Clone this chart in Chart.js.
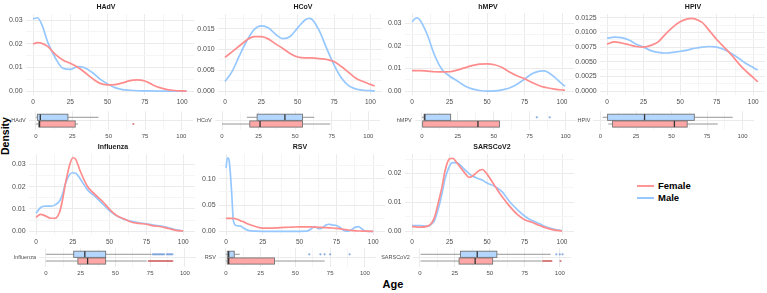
<!DOCTYPE html>
<html>
<head>
<meta charset="utf-8">
<script src="https://cdn.jsdelivr.net/npm/chart.js@4.4.0/dist/chart.umd.min.js"></script>
<style>
  body { margin: 0; background: #fff; }
  #wrap { position: relative; width: 767px; height: 293px; overflow: hidden; font-family: 'Liberation Sans', Arial, sans-serif; }
  #wrap canvas { position: absolute; }
  .ttl { position: absolute; font-weight: bold; font-size: 7px; color: #1a1a1a; transform: translate(-50%, -50%); white-space: nowrap; }
  .axt { position: absolute; font-weight: bold; color: #000; white-space: nowrap; transform: translate(-50%, -50%); }
  .leg { position: absolute; left: 637px; font-weight: bold; font-size: 9.5px; color: #000; }
  .leg span { display: inline-block; width: 17px; height: 2px; vertical-align: middle; margin-right: 4px; }
</style>
</head>
<body>
<div id="wrap">
  <div class="axt" style="left:5px;top:136px;font-size:10.5px;transform:translate(-50%,-50%) rotate(-90deg);">Density</div>
  <div class="axt" style="left:393px;top:284px;font-size:11px;">Age</div>
  <div class="leg" style="top:180px;"><span style="background:rgb(255,150,150)"></span>Female</div>
  <div class="leg" style="top:192px;"><span style="background:rgb(150,200,255)"></span>Male</div>
</div>
<script>
// Kernel density of age by sex, one panel per virus, with boxplots underneath

// ---- HAdV
const hadvAge    = [0, 3, 6, 10, 15, 20, 25, 30, 35, 40, 45, 50, 55, 60, 65, 70, 75, 80, 85, 90, 95, 100, 103];
const hadvFemale = [0.0199, 0.0205, 0.0202, 0.0188, 0.0155, 0.0132, 0.0118, 0.0101, 0.0078, 0.0053, 0.0033, 0.0027, 0.0028, 0.0035, 0.0045, 0.0048, 0.0043, 0.0028, 0.0015, 0.0007, 0.0003, 0.0001, 0];
const hadvMale   = [0.0305, 0.0310, 0.0280, 0.0205, 0.0140, 0.0097, 0.0092, 0.0104, 0.0098, 0.0078, 0.0051, 0.0031, 0.0015, 0.0007, 0.0004, 0.0002, 0.0001, 0.0001, 0, 0, 0, 0, 0];
const hadvBoxFemale = [0, 2, 2.5, 27, 29];
const hadvBoxMale   = [0, 1, 3, 22, 43];
const hadvOutFemale = [67];
const hadvOutMale   = [];

// ---- HCoV
const hcovAge    = [0, 5, 10, 15, 20, 25, 30, 35, 40, 45, 50, 55, 58, 60, 65, 70, 75, 80, 85, 90, 95, 100, 103];
const hcovFemale = [0.0081, 0.0095, 0.0109, 0.0123, 0.0131, 0.0131, 0.0125, 0.0113, 0.0102, 0.0090, 0.0082, 0.0080, 0.0080, 0.0080, 0.0078, 0.0076, 0.0071, 0.0059, 0.0045, 0.0031, 0.0023, 0.0016, 0.0012];
const hcovMale   = [0.0023, 0.0048, 0.0086, 0.0121, 0.0148, 0.0157, 0.0152, 0.0136, 0.0126, 0.0132, 0.0152, 0.0171, 0.0175, 0.0172, 0.0144, 0.0102, 0.0063, 0.0032, 0.0013, 0.0005, 0.0002, 0.0001, 0];
const hcovBoxFemale = [0, 19, 26, 55, 74];
const hcovBoxMale   = [17, 24, 43, 55, 63];
const hcovOutFemale = [];
const hcovOutMale   = [];

// ---- hMPV
const hmpvAge    = [0, 3, 5, 10, 15, 20, 25, 30, 35, 40, 45, 50, 55, 60, 65, 70, 75, 80, 85, 88, 90, 95, 100, 102];
const hmpvFemale = [0.0091, 0.0091, 0.0091, 0.0089, 0.0086, 0.0085, 0.0086, 0.0093, 0.0103, 0.0113, 0.0120, 0.0121, 0.0117, 0.0105, 0.0085, 0.0068, 0.0055, 0.0038, 0.0024, 0.0018, 0.0015, 0.0009, 0.0005, 0.0004];
const hmpvMale   = [0.0307, 0.0324, 0.0317, 0.0253, 0.0160, 0.0096, 0.0067, 0.0046, 0.0024, 0.0010, 0.0003, 0, 0.0001, 0.0006, 0.0014, 0.0031, 0.0053, 0.0077, 0.0089, 0.0090, 0.0086, 0.0062, 0.0032, 0.0022];
const hmpvBoxFemale = [0, 0.5, 39, 54, 54];
const hmpvBoxMale   = [0, 1.5, 2, 20, 20];
const hmpvOutFemale = [];
const hmpvOutMale   = [80, 89];

// ---- HPIV
const hpivAge    = [0, 5, 10, 15, 20, 25, 30, 35, 40, 45, 50, 55, 58, 60, 65, 70, 75, 80, 85, 90, 95, 100, 103];
const hpivFemale = [0.0080, 0.0084, 0.0082, 0.0079, 0.0076, 0.0075, 0.0078, 0.0084, 0.0097, 0.0109, 0.0118, 0.0123, 0.0124, 0.0123, 0.0117, 0.0103, 0.0088, 0.0075, 0.0062, 0.0047, 0.0034, 0.0023, 0.0016];
const hpivMale   = [0.0090, 0.0092, 0.0091, 0.0087, 0.0080, 0.0075, 0.0069, 0.0066, 0.0065, 0.0066, 0.0068, 0.0070, 0.0072, 0.0073, 0.0075, 0.0076, 0.0075, 0.0071, 0.0064, 0.0056, 0.0047, 0.0040, 0.0036];
const hpivBoxFemale = [5.5, 8.5, 52, 61, 82.5];
const hpivBoxMale   = [1.5, 5, 31, 66, 93];
const hpivOutFemale = [];
const hpivOutMale   = [];

// ---- Influenza
const fluAge    = [0, 3, 6, 10, 13, 16, 18, 20, 23, 25, 27, 30, 35, 40, 45, 50, 55, 60, 65, 70, 75, 80, 85, 90, 95, 100];
const fluFemale = [0.0062, 0.0075, 0.0070, 0.0058, 0.0058, 0.0085, 0.0140, 0.0214, 0.0300, 0.0329, 0.0322, 0.0270, 0.0200, 0.0165, 0.0135, 0.0098, 0.0069, 0.0055, 0.0040, 0.0035, 0.0031, 0.0024, 0.0020, 0.0012, 0.0004, 0.0001];
const fluMale   = [0.0081, 0.0105, 0.0112, 0.0112, 0.0118, 0.0135, 0.0165, 0.0214, 0.0255, 0.0262, 0.0260, 0.0235, 0.0185, 0.0156, 0.0124, 0.0091, 0.0068, 0.0053, 0.0044, 0.0038, 0.0033, 0.0027, 0.0023, 0.0015, 0.0006, 0.0001];
const fluBoxFemale = [0, 23, 30, 43, 72.5];
const fluBoxMale   = [0, 20, 28, 43, 76];
const fluOutFemale = [74, 75, 76, 77, 78, 79, 80, 81, 82, 83, 84, 85, 86, 87, 88, 89, 90, 91];
const fluOutMale   = [77, 78, 79, 80, 81, 82, 83, 84, 85, 87, 88, 89, 90, 91];

// ---- RSV
const rsvAge    = [0, 1, 2, 3, 4, 5, 7, 10, 12, 15, 20, 25, 30, 35, 40, 45, 50, 55, 58, 60, 63, 65, 68, 70, 72, 75, 78, 80, 83, 85, 88, 90, 93, 95, 100];
const rsvFemale = [0.0245, 0.0245, 0.0245, 0.0245, 0.0245, 0.0245, 0.0235, 0.0200, 0.0180, 0.0140, 0.0092, 0.0060, 0.0060, 0.0067, 0.0074, 0.0080, 0.0086, 0.0086, 0.0083, 0.0080, 0.0077, 0.0074, 0.0070, 0.0067, 0.0063, 0.0055, 0.0045, 0.0037, 0.0025, 0.0018, 0.0010, 0.0006, 0.0003, 0.0002, 0];
const rsvMale   = [0.121, 0.140, 0.137, 0.109, 0.066, 0.020, 0.011, 0.0098, 0.006, 0.0018, 0.0002, 0, 0, 0, 0, 0, 0, 0.0003, 0.005, 0.009, 0.005, 0.006, 0.012, 0.0135, 0.012, 0.011, 0.006, 0.0018, 0.0003, 0.0025, 0.008, 0.009, 0.003, 0.0005, 0];
const rsvBoxFemale = [0, 1, 2, 35, 71];
const rsvBoxMale   = [0, 1, 2, 6, 10];
const rsvOutFemale = [];
const rsvOutMale   = [60, 68, 71, 75, 89];

// ---- SARSCoV2
const sarsAge    = [0, 5, 10, 13, 15, 18, 20, 22, 25, 27, 30, 35, 38, 40, 45, 47, 50, 55, 60, 65, 70, 75, 80, 85, 90, 95, 100];
const sarsFemale = [0.0017, 0.0014, 0.0017, 0.0028, 0.0048, 0.0109, 0.0153, 0.0209, 0.0251, 0.0253, 0.0237, 0.0203, 0.0187, 0.0190, 0.0211, 0.0214, 0.0198, 0.0159, 0.0120, 0.0087, 0.0059, 0.0040, 0.0031, 0.0020, 0.0011, 0.0004, 0.0001];
const sarsMale   = [0.0020, 0.0020, 0.0017, 0.0025, 0.0037, 0.0087, 0.0131, 0.0181, 0.0226, 0.0238, 0.0237, 0.0214, 0.0200, 0.0192, 0.0181, 0.0177, 0.0167, 0.0156, 0.0137, 0.0103, 0.0076, 0.0053, 0.0037, 0.0026, 0.0014, 0.0007, 0.0002];
const sarsBoxFemale = [0.5, 28, 39.5, 52, 87];
const sarsBoxMale   = [0.5, 29, 41, 55, 93.5];
const sarsOutFemale = [88, 89, 90, 91, 92, 93, 94, 100.5];
const sarsOutMale   = [97.5, 100, 102];

// tick labels
const xMajor = [0, 25, 50, 75, 100];
const xMinor = [12.5, 37.5, 62.5, 87.5];

// colours
const femaleLine = 'rgb(255,140,140)';
const maleLine   = 'rgb(150,200,255)';
const femaleFill = 'rgb(255,166,166)';
const maleFill   = 'rgb(180,215,255)';
const gridMajor  = '#ebebeb';
const gridMinor  = '#f5f5f5';
const tickCol    = '#4d4d4d';

const X_MIN = -5, X_MAX = 108;

// layout per panel: pixel anchors
const panels = [
  { name: 'HAdV', age: hadvAge, female: hadvFemale, male: hadvMale, boxF: hadvBoxFemale, boxM: hadvBoxMale, outF: hadvOutFemale, outM: hadvOutMale,
    yTicks: [0, 0.01, 0.02, 0.03], dec: 2, title: [106, 6],
    dens: { left: 0, x0: 33, x100: 182, y0: 91, yRef: 0.03, yRefPx: 16.7, ymin: -0.0016, ymax: 0.0325 },
    box: { left: 0, x0: 36, x100: 183, top: 107, bottom: 130 } },
  { name: 'HCoV', age: hcovAge, female: hcovFemale, male: hcovMale, boxF: hcovBoxFemale, boxM: hcovBoxMale, outF: hcovOutFemale, outM: hcovOutMale,
    yTicks: [0, 0.005, 0.01, 0.015], dec: 3, title: [303, 6],
    dens: { left: 190, x0: 225, x100: 370, y0: 90.7, yRef: 0.015, yRefPx: 25.7, ymin: -0.00095, ymax: 0.0185 },
    box: { left: 190, x0: 222, x100: 368, top: 107, bottom: 130 } },
  { name: 'hMPV', age: hmpvAge, female: hmpvFemale, male: hmpvMale, boxF: hmpvBoxFemale, boxM: hmpvBoxMale, outF: hmpvOutFemale, outM: hmpvOutMale,
    yTicks: [0, 0.01, 0.02, 0.03], dec: 2, title: [488, 6],
    dens: { left: 380, x0: 412, x100: 562, y0: 90.7, yRef: 0.03, yRefPx: 20.7, ymin: -0.0017, ymax: 0.0345 },
    box: { left: 380, x0: 422, x100: 567, top: 107, bottom: 130 } },
  { name: 'HPIV', age: hpivAge, female: hpivFemale, male: hpivMale, boxF: hpivBoxFemale, boxM: hpivBoxMale, outF: hpivOutFemale, outM: hpivOutMale,
    yTicks: [0, 0.0025, 0.005, 0.0075, 0.01, 0.0125], dec: 4, title: [693, 6],
    dens: { left: 570, x0: 607, x100: 753, y0: 90.7, yRef: 0.0125, yRefPx: 14.3, ymin: -0.00065, ymax: 0.0131 },
    box: { left: 570, x0: 600.5, x100: 743, top: 107, bottom: 130 } },
  { name: 'Influenza', age: fluAge, female: fluFemale, male: fluMale, boxF: fluBoxFemale, boxM: fluBoxMale, outF: fluOutFemale, outM: fluOutMale,
    yTicks: [0, 0.01, 0.02, 0.03], dec: 2, title: [113, 146],
    dens: { left: 0, x0: 36, x100: 183, y0: 231, yRef: 0.03, yRefPx: 161.7, ymin: -0.0017, ymax: 0.0345 },
    box: { left: 0, x0: 46, x100: 187, top: 244, bottom: 267 } },
  { name: 'RSV', age: rsvAge, female: rsvFemale, male: rsvMale, boxF: rsvBoxFemale, boxM: rsvBoxMale, outF: rsvOutFemale, outM: rsvOutMale,
    yTicks: [0, 0.05, 0.1], dec: 2, title: [300, 146],
    dens: { left: 190, x0: 226, x100: 373, y0: 231, yRef: 0.1, yRefPx: 176.7, ymin: -0.007, ymax: 0.147 },
    box: { left: 190, x0: 226, x100: 367, top: 244, bottom: 267 } },
  { name: 'SARSCoV2', age: sarsAge, female: sarsFemale, male: sarsMale, boxF: sarsBoxFemale, boxM: sarsBoxMale, outF: sarsOutFemale, outM: sarsOutMale,
    yTicks: [0, 0.01, 0.02], dec: 2, title: [492, 146],
    dens: { left: 380, x0: 412, x100: 562, y0: 231, yRef: 0.02, yRefPx: 171, ymin: -0.0013, ymax: 0.0267 },
    box: { left: 380, x0: 420, x100: 562, top: 244, bottom: 267 } }
];

Chart.defaults.font.family = "'Liberation Sans', Arial, sans-serif";
Chart.defaults.color = tickCol;

const wrap = document.getElementById('wrap');

function addCanvas(left, top, w, h) {
  const cv = document.createElement('canvas');
  cv.width = Math.round(w);
  cv.height = Math.round(h);
  cv.style.left = left + 'px';
  cv.style.top = top + 'px';
  wrap.appendChild(cv);
  return cv;
}

function xScale(size) {
  return {
    type: 'linear', min: X_MIN, max: X_MAX,
    afterBuildTicks: sc => { sc.ticks = xMajor.concat(xMinor).sort((a, b) => a - b).map(v => ({ value: v })); },
    afterFit: sc => { sc.height = 14; },
    grid: { drawTicks: false, color: c => xMajor.includes(c.tick.value) ? gridMajor : gridMinor, lineWidth: 1 },
    border: { display: false },
    ticks: { padding: 3, autoSkip: false, maxRotation: 0, font: { size: size },
      callback: v => xMajor.includes(v) ? String(v) : '' }
  };
}

// density panel
function densityChart(p) {
  const d = p.dens;
  const s = (d.x100 - d.x0) / 100;
  const k = (d.y0 - d.yRefPx) / d.yRef;
  const l = d.x0 + X_MIN * s, r = d.x0 + X_MAX * s;
  const t = Math.round(d.y0 - d.ymax * k), b = d.y0 - d.ymin * k;
  const pad = 4;
  const cv = addCanvas(d.left, t - pad, r - d.left + pad, b - t + pad + 14);
  const step = p.yTicks[1] - p.yTicks[0];
  const yAll = [];
  p.yTicks.forEach(v => { yAll.push(v); yAll.push(v + step / 2); });

  new Chart(cv, {
    type: 'line',
    data: {
      datasets: [
        { label: 'Female', data: p.age.map((a, i) => ({ x: a, y: p.female[i] })), borderColor: femaleLine },
        { label: 'Male', data: p.age.map((a, i) => ({ x: a, y: p.male[i] })), borderColor: maleLine }
      ]
    },
    options: {
      responsive: false, animation: false,
      layout: { padding: { top: pad, right: pad, left: 0, bottom: 0 } },
      plugins: { legend: { display: false }, tooltip: { enabled: false } },
      elements: { point: { radius: 0 }, line: { borderWidth: 1.7, cubicInterpolationMode: 'monotone', fill: false } },
      scales: {
        x: xScale(6.5),
        y: {
          type: 'linear', min: d.ymin, max: d.ymax,
          afterBuildTicks: sc => { sc.ticks = yAll.filter(v => v <= d.ymax).map(v => ({ value: v })); },
          afterFit: sc => { sc.width = l - d.left; },
          grid: { drawTicks: false, color: c => p.yTicks.some(v => Math.abs(v - c.tick.value) < 1e-9) ? gridMajor : gridMinor },
          border: { display: false },
          ticks: { padding: 3, autoSkip: false, font: { size: 7 },
            callback: v => p.yTicks.some(m => Math.abs(m - v) < 1e-9) ? v.toFixed(p.dec) : '' }
        }
      }
    }
  });
}

// boxplot panel
const MALE_ROW = 0.68, FEMALE_ROW = 0.32, BOX_HALF = 0.165;

function boxChart(p) {
  const bx = p.box;
  const s = (bx.x100 - bx.x0) / 100;
  const l = bx.x0 + X_MIN * s, r = bx.x0 + X_MAX * s;
  const pad = 2;
  const cv = addCanvas(bx.left, bx.top - pad, r - bx.left + pad, bx.bottom - bx.top + pad + 14);
  const rows = [
    { stats: p.boxM, y: MALE_ROW, fill: maleFill },
    { stats: p.boxF, y: FEMALE_ROW, fill: femaleFill }
  ];
  const boxes = {
    id: 'boxes',
    beforeDatasetsDraw(chart) {
      const { ctx, scales: { x, y } } = chart;
      rows.forEach(row => {
        const [lo, q1, med, q3, hi] = row.stats;
        const yc = y.getPixelForValue(row.y);
        const ya = y.getPixelForValue(row.y + BOX_HALF), yb = y.getPixelForValue(row.y - BOX_HALF);
        const xa = x.getPixelForValue(q1), xb = x.getPixelForValue(q3);
        ctx.save();
        ctx.strokeStyle = '#8a8a8a';
        ctx.lineWidth = 0.9;
        ctx.beginPath();
        ctx.moveTo(x.getPixelForValue(lo), yc); ctx.lineTo(xa, yc);
        ctx.moveTo(xb, yc); ctx.lineTo(x.getPixelForValue(hi), yc);
        ctx.stroke();
        ctx.fillStyle = row.fill;
        ctx.fillRect(xa, ya, xb - xa, yb - ya);
        ctx.strokeStyle = '#737373';
        ctx.strokeRect(xa, ya, xb - xa, yb - ya);
        ctx.strokeStyle = '#333';
        ctx.lineWidth = 1.3;
        ctx.beginPath();
        ctx.moveTo(x.getPixelForValue(med), ya); ctx.lineTo(x.getPixelForValue(med), yb);
        ctx.stroke();
        ctx.restore();
      });
    }
  };

  new Chart(cv, {
    type: 'scatter',
    data: {
      datasets: [
        { label: 'Male', data: p.outM.map(v => ({ x: v, y: MALE_ROW })), backgroundColor: 'rgba(90,140,210,0.7)', pointRadius: 1.1, borderWidth: 0 },
        { label: 'Female', data: p.outF.map(v => ({ x: v, y: FEMALE_ROW })), backgroundColor: 'rgba(200,70,70,0.7)', pointRadius: 1.1, borderWidth: 0 }
      ]
    },
    options: {
      responsive: false, animation: false,
      layout: { padding: { top: pad, right: pad, left: 0, bottom: 0 } },
      plugins: { legend: { display: false }, tooltip: { enabled: false } },
      scales: {
        x: xScale(6),
        y: {
          type: 'linear', min: 0, max: 1,
          afterBuildTicks: sc => { sc.ticks = [{ value: 0.5 }]; },
          afterFit: sc => { sc.width = l - bx.left; },
          grid: { drawTicks: false, color: gridMajor },
          border: { display: false },
          ticks: { padding: 3, font: { size: 5.5 }, callback: () => p.name }
        }
      }
    },
    plugins: [boxes]
  });
}

panels.forEach(p => {
  densityChart(p);
  boxChart(p);
  const el = document.createElement('div');
  el.className = 'ttl';
  el.textContent = p.name;
  el.style.left = p.title[0] + 'px';
  el.style.top = p.title[1] + 'px';
  wrap.appendChild(el);
});
</script>
</body>
</html>
